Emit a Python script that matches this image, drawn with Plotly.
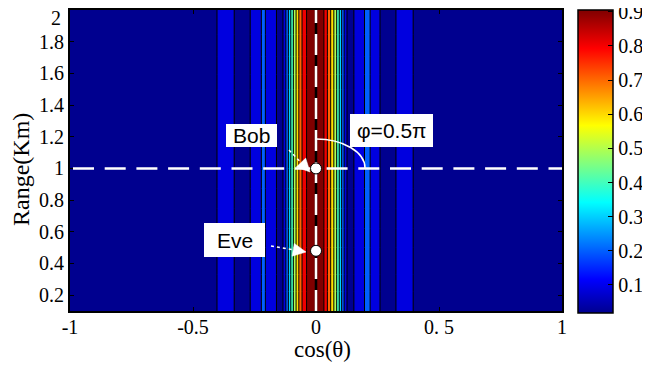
import plotly.graph_objects as go

# ---------------- data ----------------
cos_theta = [-1.00, -0.85, -0.70, -0.55, -0.45, -0.41, -0.39, -0.367, -0.345, -0.325,
             -0.30, -0.275, -0.255, -0.232, -0.214, -0.196, -0.166, -0.150, -0.143,
             -0.128, -0.117, -0.1075, -0.0975, -0.0865, -0.0755, -0.064, -0.0495, -0.035,
             -0.004,
             0.030, 0.0395, 0.053, 0.0665, 0.0785, 0.0895, 0.0995, 0.109, 0.1195, 0.135,
             0.145, 0.160, 0.190, 0.208, 0.228, 0.255, 0.268, 0.29, 0.315, 0.335, 0.36,
             0.385, 0.405, 0.45, 0.55, 0.70, 0.85, 1.00]
pattern = [0.03, 0.05, 0.04, 0.06, 0.05, 0.085, 0.125, 0.14, 0.125, 0.085,
           0.03, 0.085, 0.125, 0.17, 0.225, 0.17, 0.12, 0.06, 0.03,
           0.15, 0.25, 0.35, 0.45, 0.55, 0.65, 0.75, 0.85, 0.915,
           0.93,
           0.915, 0.85, 0.75, 0.65, 0.55, 0.45, 0.35, 0.25, 0.15, 0.03,
           0.07, 0.12, 0.18, 0.23, 0.18, 0.12, 0.07, 0.03, 0.075, 0.125, 0.14,
           0.125, 0.075, 0.05, 0.06, 0.04, 0.05, 0.03]
range_km = [0.1, 0.5, 1.0, 1.5, 2.0]
levels = [0.1, 0.2, 0.3, 0.4, 0.5, 0.6, 0.7, 0.8, 0.9]
color_min, color_max = 0.018, 0.905

x_tick_vals = [-1, -0.5, 0, 0.5, 1]
x_tick_text = ["-1", "-0.5", "0", "0. 5", "1"]
y_tick_vals = [0.2, 0.4, 0.6, 0.8, 1.0, 1.2, 1.4, 1.6, 1.8, 2.0]
y_tick_text = ["0.2", "0.4", "0.6", "0.8", "1", "1.2", "1.4", "1.6", "1.8", ""]
y_top_label = "2"
cb_tick_vals = [0.1, 0.2, 0.3, 0.4, 0.5, 0.6, 0.7, 0.8, 0.9]
cb_tick_text = ["0.1", "0.2", "0.3", "0.4", "0.5", "0.6", "0.7", "0.8", "0.9"]

bob_pos = (0.0, 1.0)
eve_pos = (0.0, 0.48)
phi_text = "φ=0.5π"

# ---------------- colours: MATLAB jet(64) ----------------
def jet64():
    n, m = 64, 16
    u = [i / m for i in range(1, m + 1)] + [1.0] * (m - 1) + [i / m for i in range(m, 0, -1)]
    L = len(u)
    g = [m // 2 + i for i in range(1, L + 1)]
    r = [v + m for v in g]
    b = [v - m for v in g]
    g = [v for v in g if v <= n]
    r = [v for v in r if v <= n]
    b = [v for v in b if v >= 1]
    J = [[0.0, 0.0, 0.0] for _ in range(n)]
    for i, idx in enumerate(r):
        J[idx - 1][0] = u[i]
    for i, idx in enumerate(g):
        J[idx - 1][1] = u[i]
    off = L - len(b)
    for i, idx in enumerate(b):
        J[idx - 1][2] = u[off + i]
    return J

JET = jet64()
def rgb(c):
    return "rgb(%d,%d,%d)" % tuple(round(255 * v) for v in c)

def level_color(v):
    k = int((v - color_min) / (color_max - color_min) * 64)
    k = max(0, min(63, k))
    return rgb(JET[k])

top = levels[-1]
contour_scale = [[0.0, rgb(JET[0])]] + [[lv / top, level_color(lv)] for lv in levels]
jet_scale = [[i / 63, rgb(c)] for i, c in enumerate(JET)]

z = [pattern for _ in range(len(range_km))]

# geometry in reference-picture pixels; the page body adds an 8px offset
OFF = 8
PL, PR, PT, PB = 70, 562, 10, 311
X0, X1, Y0, Y1 = -1.0, 1.0, 0.1, 2.0
W, H = 650 - OFF, 366 - OFF

def px_x(px):
    return X0 + (px - PL) / (PR - PL) * (X1 - X0)
def px_y(py):
    return Y0 + (PB - py) / (PB - PT) * (Y1 - Y0)
def paper_x(px):
    return (px - PL) / (PR - PL)
def paper_y(py):
    return (PB - py) / (PB - PT)

fig = go.Figure()
fig.add_trace(go.Contour(
    x=cos_theta, y=range_km, z=z,
    autocontour=False,
    contours=dict(start=levels[0], end=levels[-1], size=0.1, coloring="fill", showlabels=False),
    colorscale=contour_scale,
    line=dict(color="black", width=1),
    showscale=False, hoverinfo="skip",
))
fig.add_trace(go.Scatter(
    x=[0, 0], y=[1, 1], mode="markers", hoverinfo="skip", showlegend=False,
    marker=dict(size=1, opacity=0, color=[color_min, color_max], cmin=color_min, cmax=color_max,
                colorscale=jet_scale, showscale=True,
                colorbar=dict(x=paper_x(578), xanchor="left", xpad=0,
                              y=paper_y(10), yanchor="top", ypad=0,
                              lenmode="pixels", len=303, thickness=35,
                              outlinecolor="black", outlinewidth=1.5,
                              tickvals=cb_tick_vals, ticktext=cb_tick_text,
                              ticks="inside", ticklen=5, tickcolor="black",
                              ticklabeloverflow="allow",
                              tickfont=dict(family="Liberation Serif", size=20, color="black"))),
))

shapes = []
shapes.append(dict(type="line", xref="x", yref="y", x0=0, x1=0, y0=Y0, y1=Y1,
                   line=dict(color="black", width=2.5), layer="above"))
shapes.append(dict(type="line", xref="x", yref="y", x0=0, x1=0, y0=Y0, y1=Y1,
                   line=dict(color="white", width=2.5, dash="21px,11px"), layer="above"))
shapes.append(dict(type="line", xref="x", yref="y", x0=px_x(73), x1=X1, y0=bob_pos[1], y1=bob_pos[1],
                   line=dict(color="white", width=2.5, dash="21px,10.7px"), layer="above"))
arc = "M %f,%f C %f,%f %f,%f %f,%f" % (px_x(316), px_y(139), px_x(343), px_y(139),
                                        px_x(365), px_y(152), px_x(365), px_y(168))
shapes.append(dict(type="path", xref="x", yref="y", path=arc,
                   line=dict(color="white", width=1.5), layer="above"))

def arrow(sx, sy, tx, ty, hl=13, hw=6.5):
    dx, dy = tx - sx, ty - sy
    d = (dx * dx + dy * dy) ** 0.5
    ux, uy = dx / d, dy / d
    bx, by = tx - ux * hl, ty - uy * hl
    nx, ny = -uy, ux
    out = [dict(type="line", xref="x", yref="y", x0=px_x(sx), y0=px_y(sy), x1=px_x(bx), y1=px_y(by),
                line=dict(color="white", width=1.5, dash="dot"), layer="above")]
    p = "M %f,%f L %f,%f L %f,%f Z" % (px_x(tx), px_y(ty), px_x(bx + nx * hw), px_y(by + ny * hw),
                                         px_x(bx - nx * hw), px_y(by - ny * hw))
    out.append(dict(type="path", xref="x", yref="y", path=p, fillcolor="white",
                    line=dict(color="white", width=0.5), layer="above"))
    return out

shapes += arrow(289, 150, 310, 172)
shapes += arrow(271, 246, 306, 252)

for (cx, cy) in (bob_pos, eve_pos):
    shapes.append(dict(type="circle", xref="x", yref="y", xsizemode="pixel", ysizemode="pixel",
                       xanchor=cx, yanchor=cy, x0=-5.5, x1=5.5, y0=-5.5, y1=5.5,
                       fillcolor="white", line=dict(color="black", width=1), layer="above"))

boxes = [(226, 124, 277, 147), (204, 223, 265, 257), (350, 114, 433, 147)]
for (a, b, c, d) in boxes:
    shapes.append(dict(type="rect", xref="x", yref="y", x0=px_x(a), x1=px_x(c), y0=px_y(d), y1=px_y(b),
                       fillcolor="white", line=dict(width=0), layer="above"))

sans = dict(family="Liberation Sans, Arial", size=21, color="black")
tickfont = dict(family="Liberation Serif", size=20, color="black")
annotations = [
    dict(x=px_x(251.5), y=px_y(135.5), xref="x", yref="y", text="Bob", showarrow=False, font=sans),
    dict(x=px_x(234.5), y=px_y(240), xref="x", yref="y", text="Eve", showarrow=False, font=sans),
    dict(x=px_x(391.5), y=px_y(130.5), xref="x", yref="y", text=phi_text, showarrow=False, font=sans),
    dict(x=paper_x(322), y=paper_y(349), xref="paper", yref="paper", xanchor="center", yanchor="middle",
         text="cos(θ)", showarrow=False, font=dict(family="Liberation Serif", size=23, color="black")),
    dict(x=paper_x(21), y=paper_y(170), xref="paper", yref="paper", xanchor="center", yanchor="middle",
         text="Range(Km)", textangle=-90, showarrow=False,
         font=dict(family="Liberation Serif", size=24, color="black")),
    dict(x=paper_x(63), y=paper_y(18), xref="paper", yref="paper", xanchor="right", yanchor="middle",
         text=y_top_label, showarrow=False, font=tickfont),
]

fig.update_layout(
    width=W, height=H, autosize=False,
    margin=dict(l=PL - OFF, r=W - (PR - OFF), t=PT - OFF, b=H - (PB - OFF), pad=0, autoexpand=False),
    paper_bgcolor="white", plot_bgcolor="white",
    showlegend=False,
    shapes=shapes, annotations=annotations,
    xaxis=dict(range=[X0, X1], tickvals=x_tick_vals, ticktext=x_tick_text, ticks="inside",
               ticklen=4, tickcolor="black", showline=True, linecolor="black", linewidth=2,
               mirror="ticks", showgrid=False, zeroline=False, tickfont=tickfont,
               ticklabelstandoff=-3),
    yaxis=dict(range=[Y0, Y1], tickvals=y_tick_vals, ticktext=y_tick_text, ticks="inside",
               ticklen=4, tickcolor="black", showline=True, linecolor="black", linewidth=2,
               mirror="ticks", showgrid=False, zeroline=False, tickfont=tickfont),
)

fig.write_html("out.html")
